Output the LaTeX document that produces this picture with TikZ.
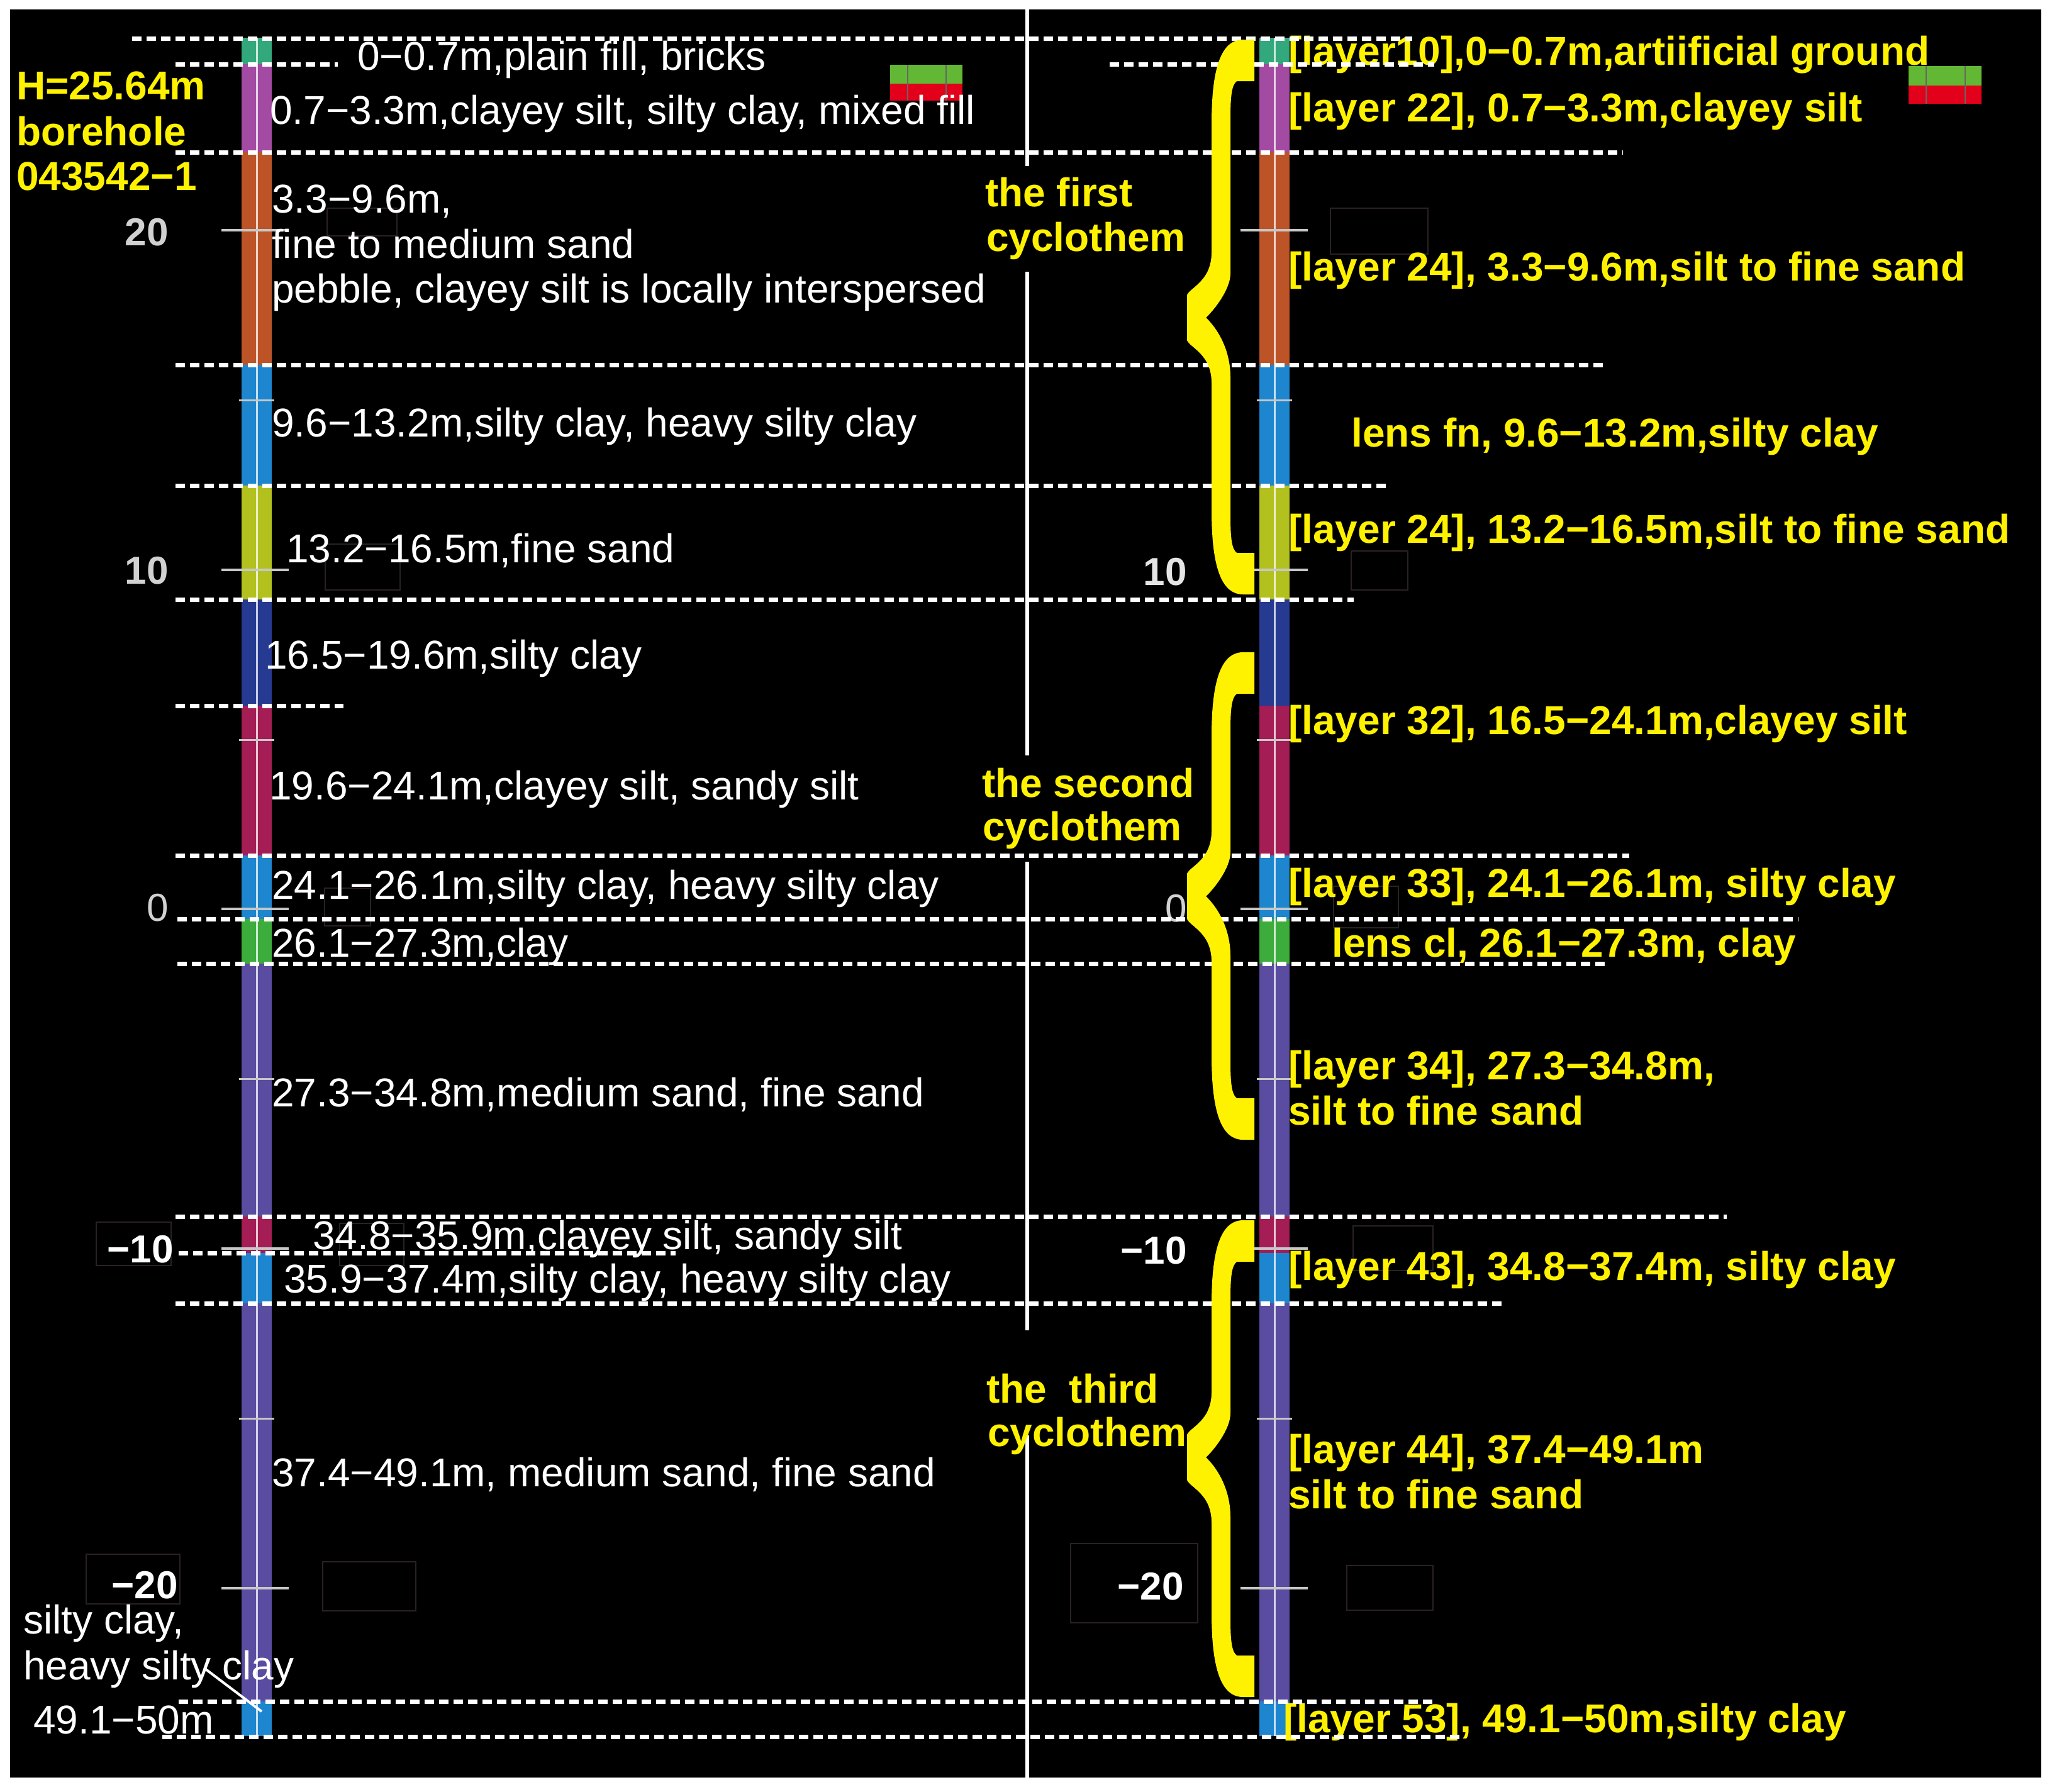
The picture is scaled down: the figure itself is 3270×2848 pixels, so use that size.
\documentclass[tikz,border=0pt]{standalone}
\usepackage{fontspec}
\setmainfont{Liberation Sans}
\definecolor{cTeal}{HTML}{33A87C}
\definecolor{cMag}{HTML}{A34AA2}
\definecolor{cOra}{HTML}{BD5428}
\definecolor{cBlu}{HTML}{1D86CE}
\definecolor{cYG}{HTML}{B3C11E}
\definecolor{cDB}{HTML}{273A92}
\definecolor{cCri}{HTML}{A41D55}
\definecolor{cGrn}{HTML}{3CAC3C}
\definecolor{cPur}{HTML}{5A4CA0}
\definecolor{ylw}{HTML}{FFF200}
\definecolor{icG}{HTML}{62B834}
\definecolor{icR}{HTML}{E2001A}
\definecolor{fboxc}{HTML}{2A2222}
\newcommand{\ybrace}[3]{%
\fill[ylw] (1994,#1) -- (1976,#1) .. controls (1936,#1) and (1926,{#1+60}) .. (1926,{#1+135})
 -- (1926,{#2-104}) .. controls (1926,{#2-58}) and (1892,{#2-48}) .. (1887,{#2-36})
 -- (1887,{#2+36}) .. controls (1892,{#2+48}) and (1926,{#2+58}) .. (1926,{#2+104})
 -- (1926,{#3-135}) .. controls (1926,{#3-60}) and (1936,#3) .. (1976,#3) -- (1994,#3)
 -- (1994,{#3-66}) -- (1966,{#3-66}) .. controls (1958,{#3-72}) and (1956,{#3-90}) .. (1956,{#3-125})
 -- (1956,{#2+95}) .. controls (1956,{#2+45}) and (1930,{#2+12}) .. (1917,#2)
 .. controls (1930,{#2-12}) and (1956,{#2-45}) .. (1956,{#2-70})
 -- (1956,{#1+125}) .. controls (1956,{#1+90}) and (1958,{#1+72}) .. (1966,{#1+66}) -- (1994,{#1+66}) -- cycle;}
\begin{document}
\begin{tikzpicture}[x=1pt,y=-1pt,
  wtxt/.style={text=white,font=\fontsize{64}{70}\selectfont,anchor=base west,inner sep=0pt},
  ytxt/.style={text=ylw,font=\fontsize{64}{70}\selectfont\bfseries,anchor=base west,inner sep=0pt},
  tlbl/.style={font=\fontsize{62}{70}\selectfont\bfseries,anchor=base east,inner sep=0pt},
  dline/.style={white,line width=7pt,dash pattern=on 15pt off 8pt},
  majtick/.style={white!78!black,line width=4pt},
  mintick/.style={white!78!black,line width=3pt},
  fbx/.style={draw=fboxc,line width=2pt},
  divline/.style={white,line width=6pt},
  cline/.style={white,opacity=0.75,line width=3pt}]
\useasboundingbox (0,0) rectangle (3270,2848);
\fill[white] (0,0) rectangle (3270,2848);
\fill[black] (16,15) rectangle (3245,2826);
% faint boxes
\foreach \a/\b/\c/\d in {520/331/631/375, 517/865/636/938, 516/1412/589/1472, 153/1943/272/2012, 540/1945/642/2012, 137/2471/286/2550, 513/2483/661/2561, 2115/331/2270/404, 2148/876/2238/938, 2120/1409/2223/1475, 2151/1949/2278/2020, 1702/2454/1904/2580, 2141/2489/2278/2560}
  \draw[fbx] (\a,\b) rectangle (\c,\d);
% borehole columns
\foreach \t/\b/\c in {60/102/cTeal, 102/242/cMag, 242/580/cOra, 580/772/cBlu, 772/953/cYG, 953/1122/cDB, 1122/1360/cCri, 1360/1461/cBlu, 1461/1532/cGrn, 1532/1934/cPur, 1934/1992/cCri, 1992/2072/cBlu, 2072/2705/cPur, 2705/2760/cBlu}
{
  \fill[\c] (384,\t) rectangle (432,\b);
  \fill[\c] (2002,\t) rectangle (2050,\b);
}
\draw[cline] (408,60) -- (408,2760);
\draw[cline] (2026,60) -- (2026,2760);
% ticks
\foreach \y in {366,906,1445,1985,2525} {
  \draw[majtick] (352,\y) -- (459,\y);
  \draw[majtick] (1972,\y) -- (2079,\y);
}
\foreach \y in {636,1176,1715,2255} {
  \draw[mintick] (380,\y) -- (436,\y);
  \draw[mintick] (1998,\y) -- (2054,\y);
}
% colour icons
\fill[icG] (1415,103) rectangle (1530,133);
\fill[icR] (1415,133) rectangle (1530,160);
\draw[black!60,line width=2pt] (1443,103) -- (1443,160) (1504,103) -- (1504,160);
\fill[icG] (3034,105) rectangle (3150,136);
\fill[icR] (3034,136) rectangle (3150,165);
\draw[black!60,line width=2pt] (3062,105) -- (3062,165) (3124,105) -- (3124,165);
% divider
\draw[divline] (1633,15) -- (1633,264);
\draw[divline] (1633,432) -- (1633,1201);
\draw[divline] (1633,1370) -- (1633,2115);
\draw[divline] (1633,2282) -- (1633,2826);
% tick labels
\node[tlbl,text=white!82!black] (e20) at (268,390) {20};
\node[tlbl,text=white!82!black] (e10) at (268,928) {10};
\node[tlbl,text=white!82!black,font=\fontsize{62}{70}\selectfont] (e0) at (268,1464) {0};
\node[tlbl,text=white] (em10) at (276,2007) {−10};
\node[tlbl,text=white] (em20) at (283,2541) {−20};
\node[tlbl,text=white!90!black] (f10) at (1887,930) {10};
\node[tlbl,text=white!82!black,font=\fontsize{62}{70}\selectfont] (f0) at (1887,1465) {0};
\node[tlbl,text=white] (fm10) at (1887,2009) {−10};
\node[tlbl,text=white] (fm20) at (1882,2543) {−20};
% left white texts
\node[wtxt] (t1) at (568,111) {0−0.7m,plain fill, bricks};
\node[wtxt] (t2) at (429,197) {0.7−3.3m,clayey silt, silty clay, mixed fill};
\node[wtxt] (t3a) at (432,338) {3.3−9.6m,};
\node[wtxt] (t3b) at (432,410) {fine to medium sand};
\node[wtxt] (t3c) at (432,481) {pebble, clayey silt is locally interspersed};
\node[wtxt] (t4) at (432,694) {9.6−13.2m,silty clay, heavy silty clay};
\node[wtxt] (t5) at (455,894) {13.2−16.5m,fine sand};
\node[wtxt] (t6) at (421,1063) {16.5−19.6m,silty clay};
\node[wtxt] (t7) at (428,1271) {19.6−24.1m,clayey silt, sandy silt};
\node[wtxt] (t8) at (432,1429) {24.1−26.1m,silty clay, heavy silty clay};
\node[wtxt] (t9) at (432,1521) {26.1−27.3m,clay};
\node[wtxt] (t10) at (432,1759) {27.3−34.8m,medium sand, fine sand};
\node[wtxt] (t11) at (497,1986) {34.8−35.9m,clayey silt, sandy silt};
\node[wtxt] (t12) at (451,2055) {35.9−37.4m,silty clay, heavy silty clay};
\node[wtxt] (t13) at (432,2363) {37.4−49.1m, medium sand, fine sand};
\node[wtxt] (t14a) at (37,2597) {silty clay,};
\node[wtxt] (t14b) at (37,2670) {heavy silty clay};
\node[wtxt] (t14c) at (53,2756) {49.1−50m};
% left yellow title
\node[ytxt] (h1) at (26,158) {H=25.64m};
\node[ytxt] (h2) at (26,231) {borehole};
\node[ytxt] (h3) at (26,302) {043542−1};
% cyclothem labels
\node[ytxt] (c1a) at (1566,328) {the first};
\node[ytxt] (c1b) at (1568,399) {cyclothem};
\node[ytxt] (c2a) at (1561,1267) {the second};
\node[ytxt] (c2b) at (1562,1336) {cyclothem};
\node[ytxt] (c3a) at (1568,2230) {the\ \ third};
\node[ytxt] (c3b) at (1570,2299) {cyclothem};
% right yellow texts
\node[ytxt] (r1) at (2048,103) {[layer10],0−0.7m,artiificial ground};
\node[ytxt] (r2) at (2048,193) {[layer 22], 0.7−3.3m,clayey silt};
\node[ytxt] (r3) at (2048,446) {[layer 24], 3.3−9.6m,silt to fine sand};
\node[ytxt] (r4) at (2148,710) {lens fn, 9.6−13.2m,silty clay};
\node[ytxt] (r5) at (2048,863) {[layer 24], 13.2−16.5m,silt to fine sand};
\node[ytxt] (r6) at (2048,1167) {[layer 32], 16.5−24.1m,clayey silt};
\node[ytxt] (r7) at (2048,1426) {[layer 33], 24.1−26.1m, silty clay};
\node[ytxt] (r8) at (2117,1521) {lens cl, 26.1−27.3m, clay};
\node[ytxt] (r9a) at (2048,1716) {[layer 34], 27.3−34.8m,};
\node[ytxt] (r9b) at (2048,1788) {silt to fine sand};
\node[ytxt] (r10) at (2048,2035) {[layer 43], 34.8−37.4m, silty clay};
\node[ytxt] (r11a) at (2048,2326) {[layer 44], 37.4−49.1m};
\node[ytxt] (r11b) at (2048,2398) {silt to fine sand};
\node[ytxt] (r12) at (2040,2754) {[layer 53], 49.1−50m,silty clay};
% leader line
\coordinate (ldA) at (326,2653);
\coordinate (ldB) at (416,2721);
\draw[white,line width=4pt] (ldA) -- (ldB);
% dashed layer boundaries
\foreach \y/\a/\b in {61/210/2245, 102/279/537, 102/1764/2280, 242/279/2580, 580/279/2548, 772/279/2206, 953/279/2152, 1122/279/546, 1360/279/2590, 1461/282/2859, 1532/282/2554, 1934/279/2745, 1992/284/1074, 2072/279/2389, 2705/284/2280, 2761/258/2321}
  \draw[dline] (\a,\y) -- (\b,\y);
% braces
\ybrace{63}{505}{945}
\ybrace{1037}{1425}{1812}
\ybrace{1940}{2317}{2698}
\end{tikzpicture}
\end{document}
